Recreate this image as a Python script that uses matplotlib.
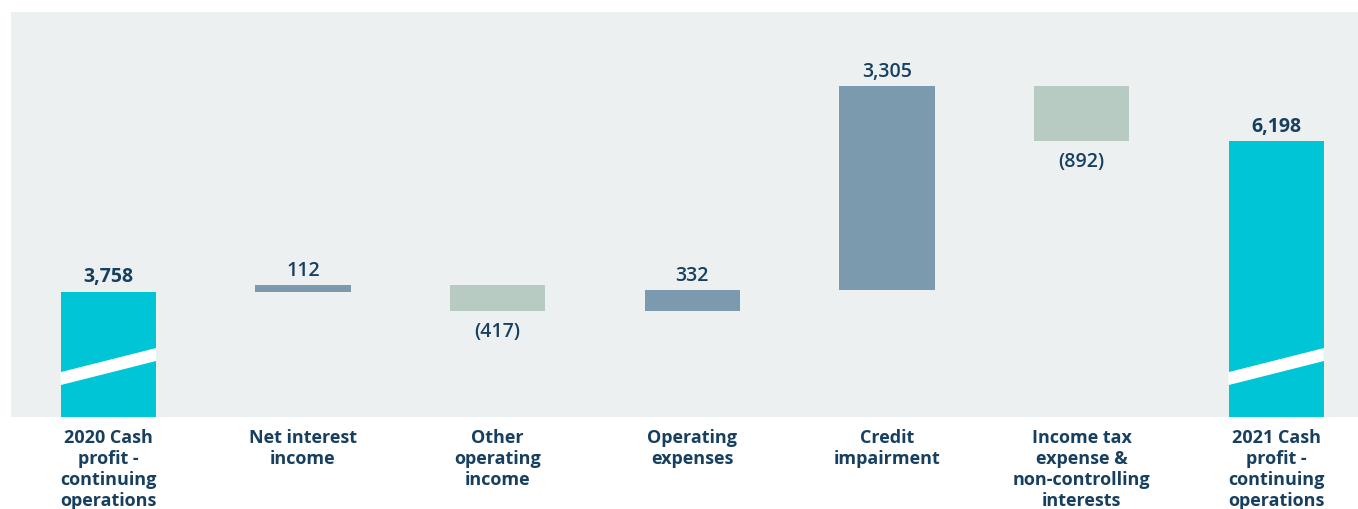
import matplotlib
matplotlib.use("Agg")
import matplotlib.pyplot as plt
import numpy as np
from matplotlib.patches import Polygon
from matplotlib.transforms import ScaledTranslation

categories = [
    "2020 Cash\nprofit -\ncontinuing\noperations",
    "Net interest\nincome",
    "Other\noperating\nincome",
    "Operating\nexpenses",
    "Credit\nimpairment",
    "Income tax\nexpense &\nnon-controlling\ninterests",
    "2021 Cash\nprofit -\ncontinuing\noperations",
]
start_total = 3758
movements = [112, -417, 332, 3305, -892]
end_total = 6198

# broken axis: baseline of the chart sits well above zero
axis_floor = 1733
axis_top = 8295
break_level = 2250     # where the white break band crosses the total bars

TOTAL_COLOR = "#00C5D7"
UP_COLOR = "#7B9AAE"
DOWN_COLOR = "#B7CBC3"
PANEL_COLOR = "#ECF0F1"
TEXT_COLOR = "#173F5F"

plt.rcParams["font.family"] = ["Open Sans", "DejaVu Sans"]

fig = plt.figure(figsize=(13.58, 5.10), dpi=100)
ax = fig.add_axes([11 / 1358, 92 / 510, 1 - 11 / 1358, 405 / 510])
ax.set_facecolor(PANEL_COLOR)


def offset(dy_pt):
    return ax.transData + ScaledTranslation(0, dy_pt / 72, fig.dpi_scale_trans)


x = np.arange(len(categories))
bar_width = 0.49

# totals
for xi, total in ((x[0], start_total), (x[-1], end_total)):
    ax.bar(xi, total - axis_floor, bottom=axis_floor, width=bar_width,
           color=TOTAL_COLOR, zorder=2)
    ax.text(xi, total, f"{total:,}", ha="center", va="bottom",
            fontsize=14, fontweight="bold", color=TEXT_COLOR,
            transform=offset(4))
    # white break band
    band = 210
    rise = 390
    poly = Polygon(
        [(xi - bar_width / 2, break_level),
         (xi + bar_width / 2, break_level + rise),
         (xi + bar_width / 2, break_level + rise + band),
         (xi - bar_width / 2, break_level + band)],
        closed=True, facecolor="white", edgecolor="none", zorder=3)
    ax.add_patch(poly)

# movements
running = start_total
for xi, delta in zip(x[1:-1], movements):
    lo = min(running, running + delta)
    color = UP_COLOR if delta >= 0 else DOWN_COLOR
    ax.bar(xi, abs(delta), bottom=lo, width=bar_width, color=color, zorder=2)
    if delta >= 0:
        label, va, dy = f"{delta:,}", "bottom", 4
    else:
        label, va, dy = f"({abs(delta):,})", "top", -7
    ax.text(xi, running + delta, label, ha="center", va=va, fontsize=14,
            fontweight="semibold", color=TEXT_COLOR, transform=offset(dy))
    running += delta

ax.set_xlim(-0.5, 6.42)
ax.set_ylim(axis_floor, axis_top)
ax.set_yticks([])
ax.set_xticks(x)
ax.set_xticklabels(categories, fontsize=13, fontweight="bold",
                   color=TEXT_COLOR, linespacing=1.2)
ax.tick_params(axis="x", length=0, pad=8)
for spine in ax.spines.values():
    spine.set_visible(False)

fig.savefig("out.png", dpi=100)
